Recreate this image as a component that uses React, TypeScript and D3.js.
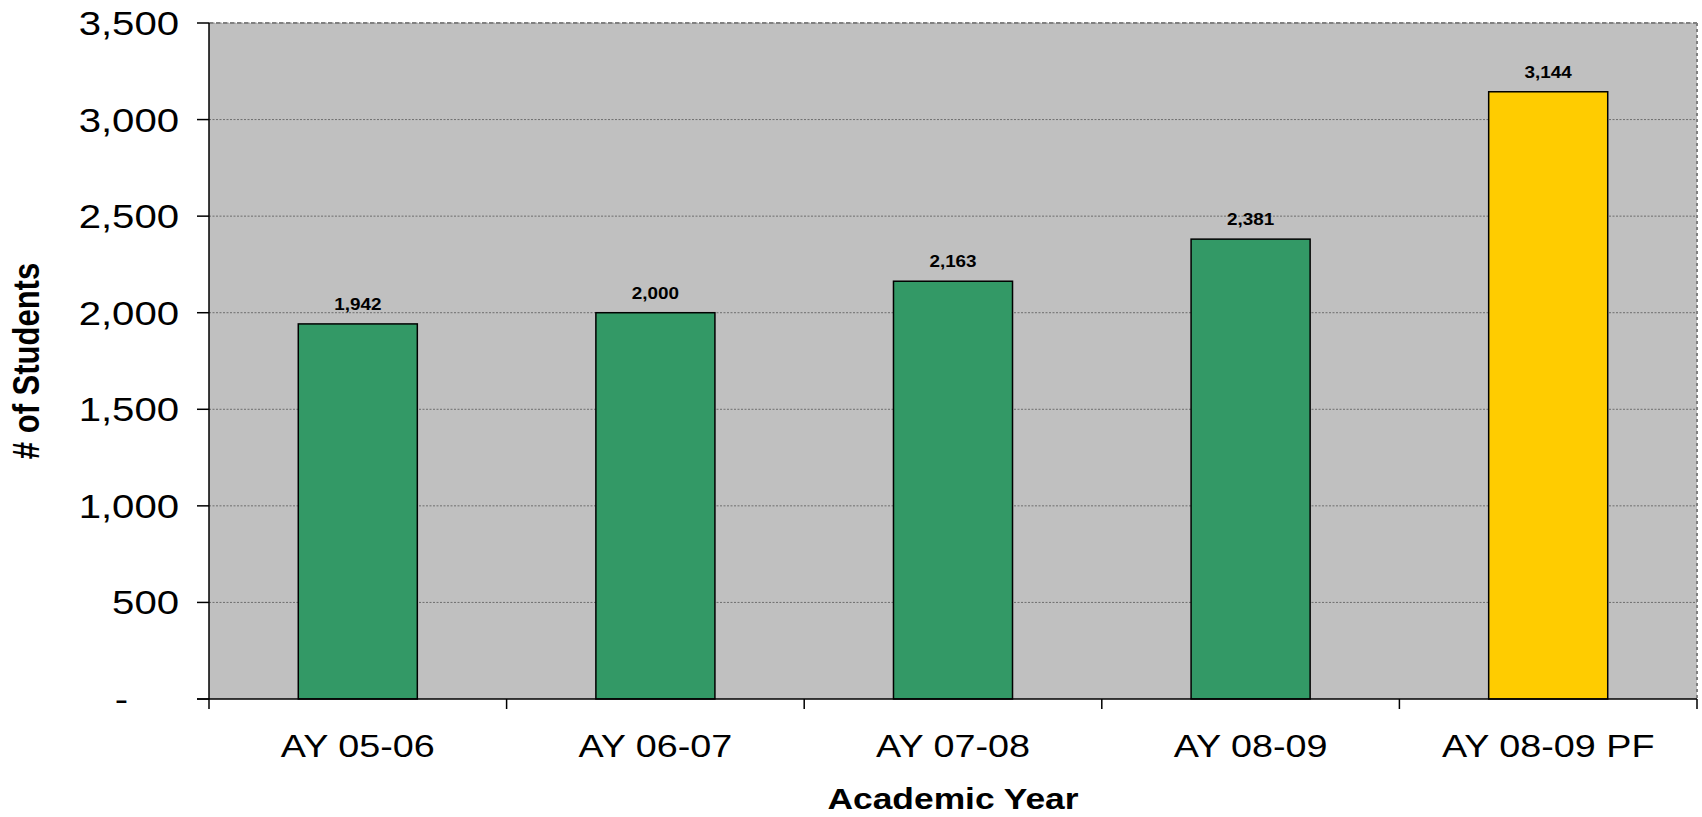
import React from "react";
import * as d3 from "d3";

const categories = ["AY 05-06", "AY 06-07", "AY 07-08", "AY 08-09", "AY 08-09 PF"];
const values = [1942, 2000, 2163, 2381, 3144];
const barColors = ["#339966", "#339966", "#339966", "#339966", "#FFCC00"];
const yTicks = [0, 500, 1000, 1500, 2000, 2500, 3000, 3500];
const yTitle = "# of Students";
const xTitle = "Academic Year";

const W = 1702;
const H = 817;
const left = 209;
const right = 1697;
const top = 23;
const bottom = 699;
const SX = 1.18;
const FONT = "'Liberation Sans', Arial, Helvetica, sans-serif";

export default function App() {
  const x = d3.scaleBand<string>().domain(categories).range([left, right]).padding(0);
  const y = d3.scaleLinear().domain([0, 3500]).range([bottom, top]);
  const fmt = d3.format(",");
  const bw = x.bandwidth() * 0.4;

  return (
    <svg
      width={W}
      height={H}
      style={{ position: "absolute", left: 0, top: 0, background: "#fff" }}
      fontFamily={FONT}
    >
      {/* plot background */}
      <rect x={left} y={top} width={right - left} height={bottom - top} fill="#C0C0C0" />
      {/* gridlines */}
      {yTicks.slice(1).map((t) => (
        <line
          key={"g" + t}
          x1={left}
          x2={right}
          y1={y(t)}
          y2={y(t)}
          stroke="#6e6e6e"
          strokeWidth={1}
          strokeDasharray="2,1.5"
        />
      ))}
      {/* plot border top/right */}
      <line x1={left} x2={right} y1={top} y2={top} stroke="#808080" strokeWidth={2} strokeDasharray="4,3" />
      <line x1={right} x2={right} y1={top} y2={bottom} stroke="#808080" strokeWidth={2} strokeDasharray="3,3" />

      {/* bars */}
      {categories.map((c, i) => {
        const cx = (x(c) as number) + x.bandwidth() / 2;
        return (
          <g key={c}>
            <rect
              x={cx - bw / 2}
              y={y(values[i])}
              width={bw}
              height={bottom - y(values[i])}
              fill={barColors[i]}
              stroke="#000"
              strokeWidth={1.5}
            />
            <text
              transform={`translate(${cx},${y(values[i]) - 14}) scale(${SX},1)`}
              textAnchor="middle"
              fontSize={16}
              fontWeight="bold"
              fill="#000"
            >
              {fmt(values[i])}
            </text>
            <text
              transform={`translate(${cx},757) scale(${SX},1)`}
              textAnchor="middle"
              fontSize={32}
              fill="#000"
            >
              {c}
            </text>
          </g>
        );
      })}

      {/* axes */}
      <line x1={left} x2={left} y1={top} y2={bottom + 10} stroke="#000" strokeWidth={1.5} />
      <line x1={left - 12} x2={right} y1={bottom} y2={bottom} stroke="#000" strokeWidth={1.5} />
      {yTicks.map((t) => (
        <g key={"t" + t}>
          <line x1={left - 12} x2={left} y1={y(t)} y2={y(t)} stroke="#000" strokeWidth={1.5} />
          <text
            transform={`translate(179,${y(t) + 12}) scale(${SX},1)`}
            textAnchor="end"
            fontSize={34}
            fill="#000"
            dx={t === 0 ? "-1.27em" : 0}
          >
            {t === 0 ? "-" : fmt(t)}
          </text>
        </g>
      ))}
      {categories.slice(1).map((c) => (
        <line
          key={"xt" + c}
          x1={x(c) as number}
          x2={x(c) as number}
          y1={bottom}
          y2={bottom + 10}
          stroke="#000"
          strokeWidth={1.5}
        />
      ))}
      <line x1={right} x2={right} y1={bottom} y2={bottom + 10} stroke="#000" strokeWidth={1.5} />

      {/* titles */}
      <text
        transform={`translate(${(left + right) / 2},809) scale(${SX},1)`}
        textAnchor="middle"
        fontSize={30}
        fontWeight="bold"
        fill="#000"
      >
        {xTitle}
      </text>
      <text
        transform={`translate(39,${(top + bottom) / 2}) scale(${SX},1) rotate(-90)`}
        textAnchor="middle"
        fontSize={31}
        fontWeight="bold"
        fill="#000"
      >
        {yTitle}
      </text>
    </svg>
  );
}
